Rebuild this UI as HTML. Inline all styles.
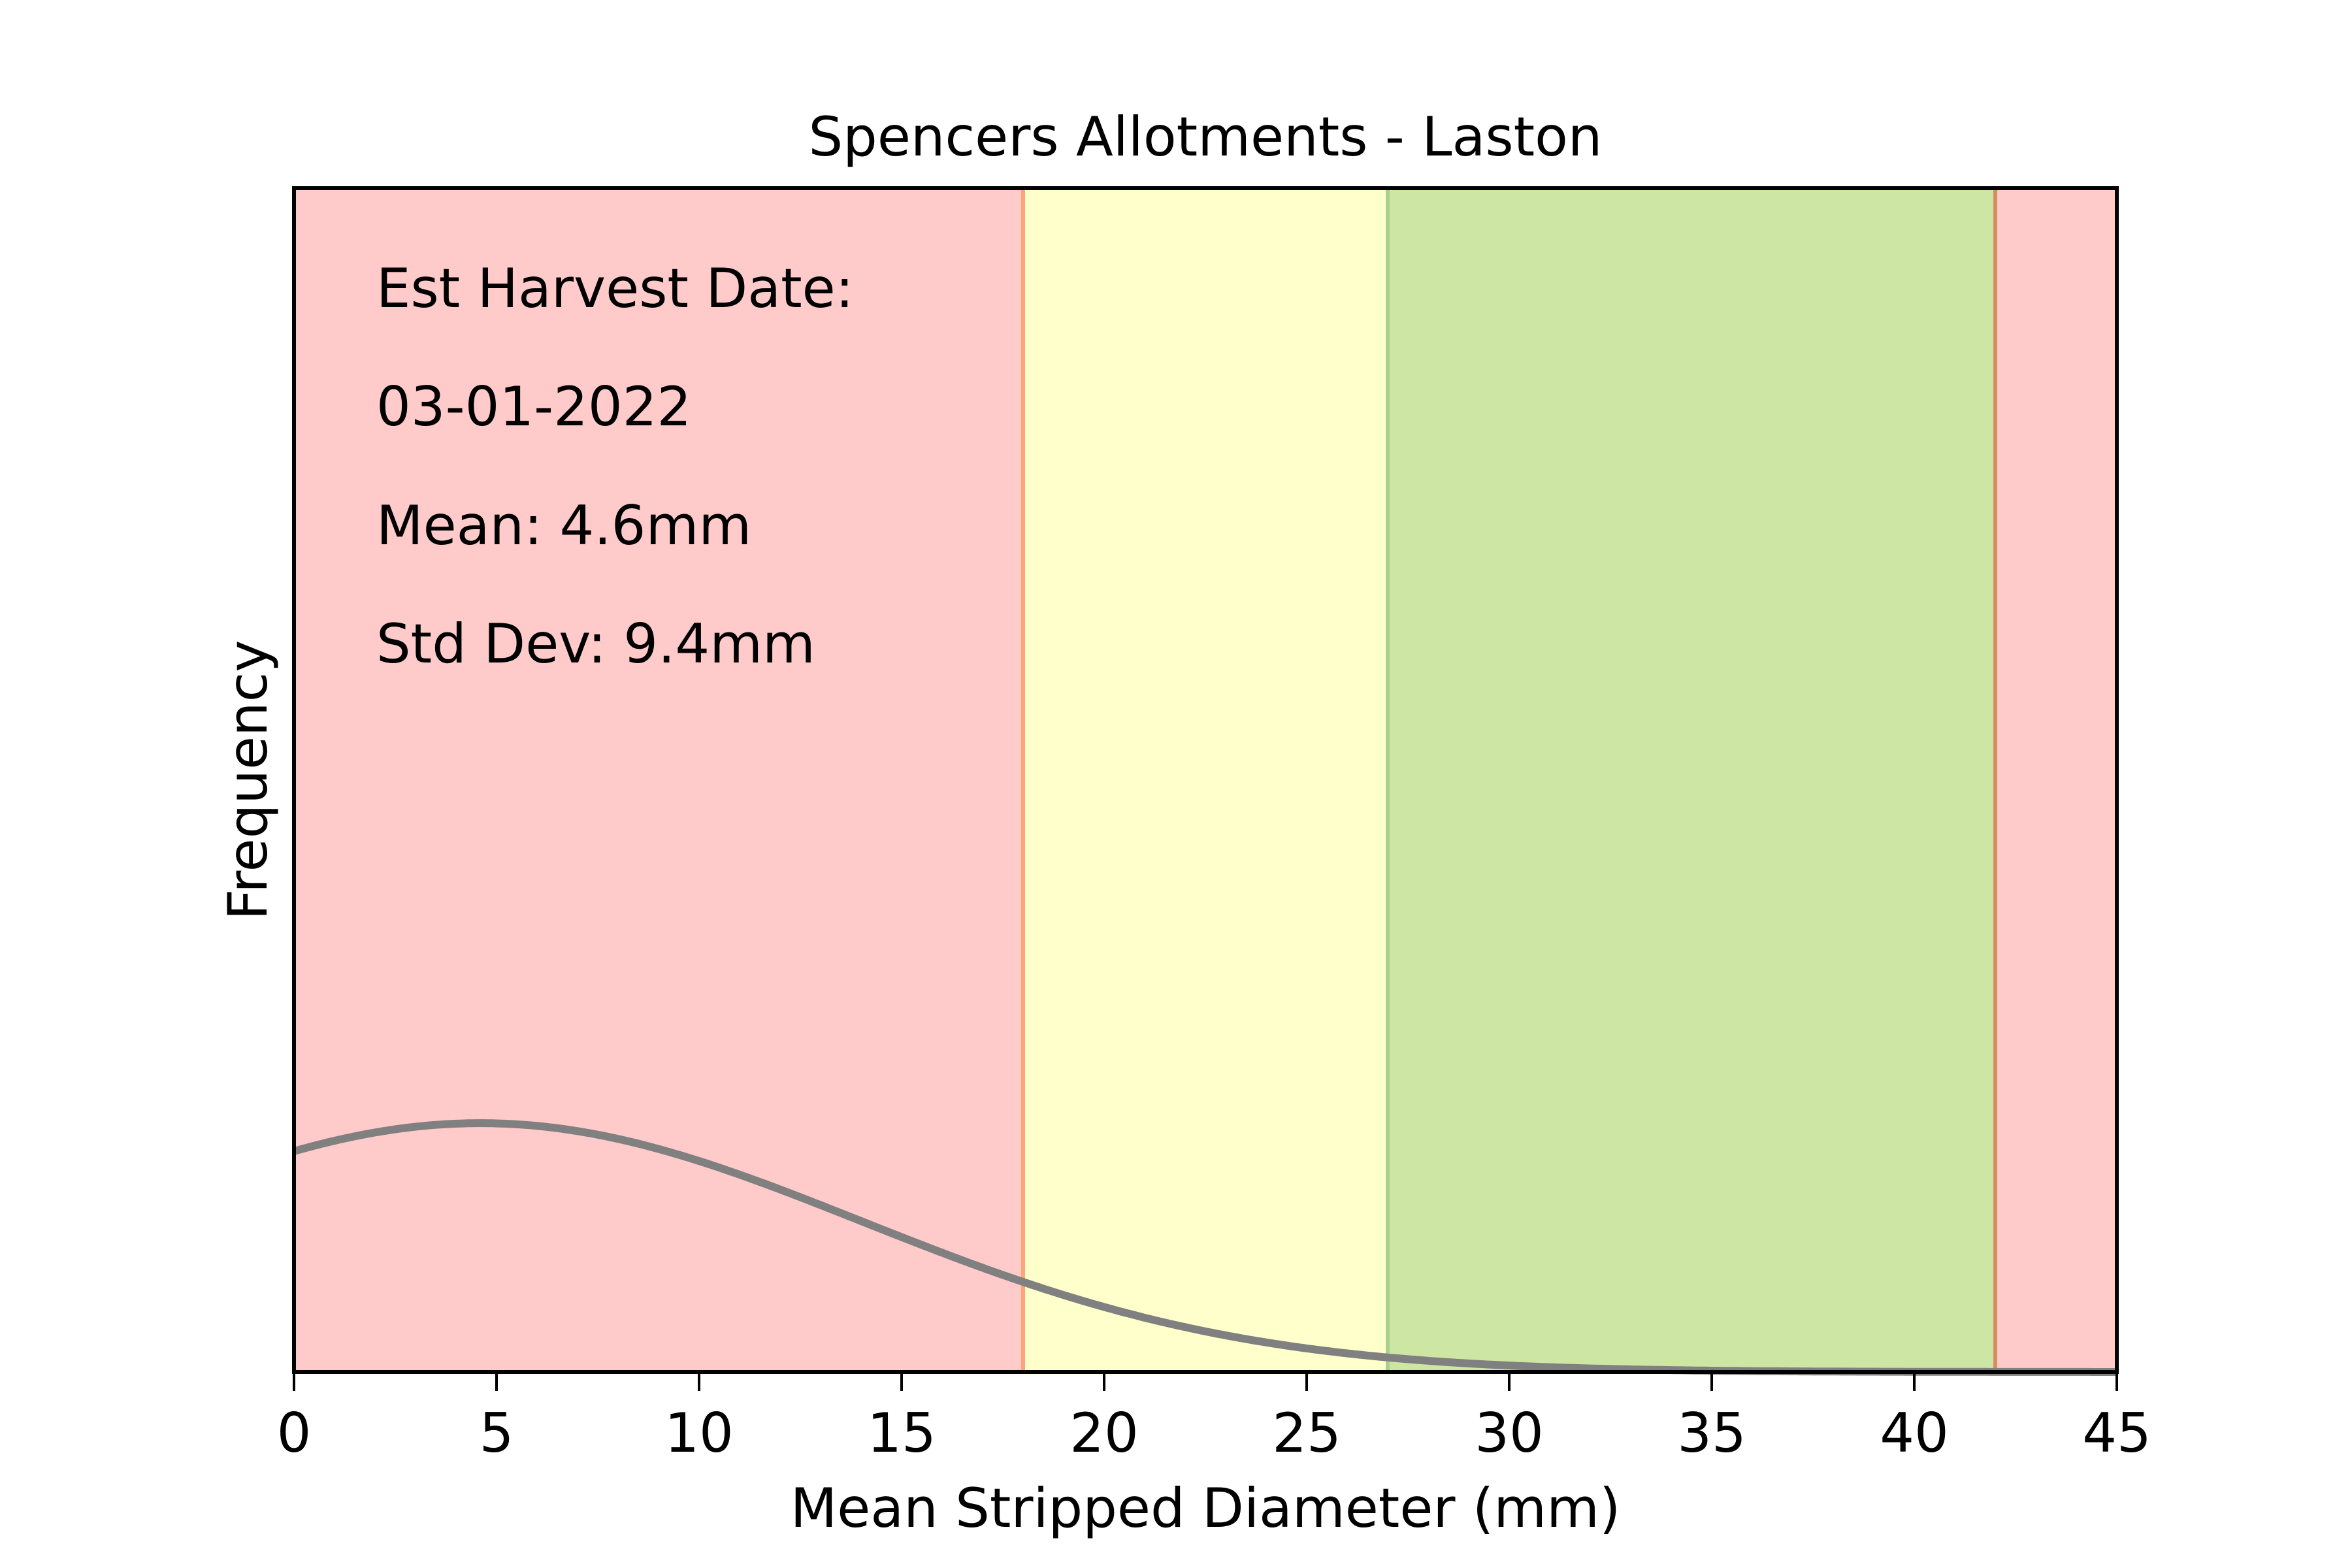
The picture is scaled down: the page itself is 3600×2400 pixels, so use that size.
<!DOCTYPE html>
<html><head><meta charset="utf-8"><style>
html,body{margin:0;padding:0;background:#fff}
svg{display:block}
text{font-family:"DejaVu Sans","Liberation Sans",sans-serif;fill:#000}
</style></head><body>
<svg id="chart" width="3600" height="2400" viewBox="0 0 3600 2400" xmlns="http://www.w3.org/2000/svg">
<rect width="3600" height="2400" fill="#fff"/>
<g id="bands"></g>
<g id="curve"></g>
<rect x="450" y="288" width="2790" height="1812" fill="none" stroke="#000" stroke-width="6"/>
<g id="ticks"></g>
<text x="1845" y="238" font-size="83" text-anchor="middle">Spencers Allotments - Laston</text>
<text x="1845" y="2337" font-size="83" text-anchor="middle">Mean Stripped Diameter (mm)</text>
<text x="0" y="0" font-size="83" text-anchor="middle" transform="translate(408,1194) rotate(-90)">Frequency</text>
<g font-size="83">
<text x="576" y="470">Est Harvest Date:</text>
<text x="576" y="651">03-01-2022</text>
<text x="576" y="833">Mean: 4.6mm</text>
<text x="576" y="1014">Std Dev: 9.4mm</text>
</g>
</svg>
<script>
const xTicks = [0,5,10,15,20,25,30,35,40,45];
const bandStarts = [0,18,27,42];
const bandEnds = [18,27,42,45];
const bandNames = ['band-too-small','band-borderline','band-ideal','band-too-large'];
const bandFills = ['#ffcaca','#ffffcc','#cde6a4','#ffcaca'];
const edgeValues = [18,27,42];
const edgeColors = ['#ffa47a','#a8d08d','#d28f60'];
const meanValue = [4.6];
const stdValue = [9.4];
const yMaxFactor = [0.2102];

const NS='http://www.w3.org/2000/svg';
const L=450,R=3240,T=288,B=2100;
const xs=v=>L+(v-0)/(45-0)*(R-L);
const mu=meanValue[0], sd=stdValue[0];
const pdf=x=>Math.exp(-0.5*((x-mu)/sd)**2)/(sd*Math.sqrt(2*Math.PI));
const peak=pdf(mu);
const ymax=peak/yMaxFactor[0];
const ys=v=>B-v/ymax*(B-T);
function mk(tag,attrs,parent){const e=document.createElementNS(NS,tag);for(const k in attrs)e.setAttribute(k,attrs[k]);parent.appendChild(e);return e;}
const bands=document.getElementById('bands');
bandStarts.forEach((s,i)=>{
  const r=mk('rect',{x:xs(s),y:T,width:xs(bandEnds[i])-xs(s),height:B-T,fill:bandFills[i]},bands);
  
  
});
edgeValues.forEach((v,i)=>{
  const l=mk('line',{x1:xs(v),x2:xs(v),y1:T,y2:B,stroke:edgeColors[i],'stroke-width':6},bands);
  
  
});
const cg=document.getElementById('curve');
let d='';
for(let i=0;i<=450;i++){const x=i/10;d+=(i?'L':'M')+xs(x).toFixed(1)+','+ys(pdf(x)).toFixed(1);}
const p=mk('path',{d:d,fill:'none',stroke:'#808080','stroke-width':12,'stroke-linejoin':'round'},cg);


const tg=document.getElementById('ticks');
xTicks.forEach(v=>{
  const t=mk('line',{x1:xs(v),x2:xs(v),y1:B,y2:B+29,stroke:'#000','stroke-width':4},tg);
  
  
  const lb=mk('text',{x:xs(v),y:2222,'font-size':83,'text-anchor':'middle'},tg);
  lb.textContent=String(v);
  
  
});
</script>
</body></html>
